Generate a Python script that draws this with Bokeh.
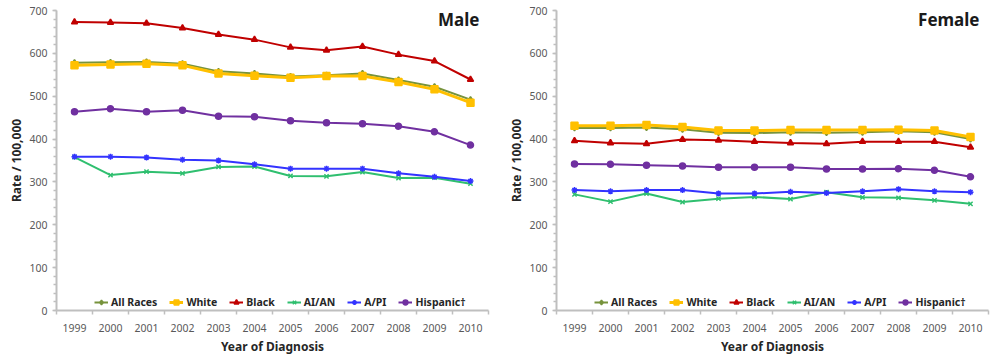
from bokeh.plotting import figure
from bokeh.models import Range1d, FixedTicker, Legend, LegendItem, Label, ColumnDataSource
from bokeh.layouts import row
from bokeh.embed import file_html
from bokeh.resources import INLINE

years = list(range(1999, 2011))
year_labels = [str(y) for y in years]
series_names = ["All Races", "White", "Black", "AI/AN", "A/PI", "Hispanic\u2020"]

male_all = [578, 579, 580, 576, 558, 553, 546, 549, 553, 538, 522, 492]
male_white = [572, 574, 576, 572, 553, 548, 543, 547, 547, 533, 516, 485]
male_black = [673, 672, 670, 659, 644, 632, 614, 607, 616, 597, 582, 539]
male_aian = [358, 316, 324, 320, 335, 336, 314, 313, 323, 309, 310, 296]
male_api = [359, 359, 357, 352, 350, 341, 331, 331, 331, 320, 312, 302]
male_hisp = [464, 471, 464, 467, 453, 452, 443, 438, 436, 430, 417, 386]

female_all = [426, 426, 427, 423, 415, 414, 416, 415, 416, 418, 416, 400]
female_white = [431, 431, 433, 428, 420, 420, 421, 421, 421, 422, 420, 405]
female_black = [396, 391, 389, 399, 397, 394, 391, 389, 394, 394, 394, 381]
female_aian = [271, 254, 273, 253, 261, 265, 260, 276, 264, 263, 257, 249]
female_api = [281, 278, 281, 281, 273, 273, 277, 274, 278, 283, 278, 276]
female_hisp = [342, 341, 339, 337, 334, 334, 334, 330, 330, 331, 327, 312]

y_ticks = [0, 100, 200, 300, 400, 500, 600, 700]

colors = ["#77933C", "#FFC000", "#C00000", "#2FBF6F", "#3333FF", "#7030A0"]
markers = ["diamond", "square", "triangle", "x", "asterisk", "circle"]
msizes = [6, 7, 6, 6, 6, 6]
lwidths = [2, 3, 2, 2, 2, 2]

FONT = "Noto Sans"


def make_panel(title, data, width, border_right):
    p = figure(width=width, height=357, output_backend="svg", toolbar_location=None,
               x_range=Range1d(1998.5, 2010.5), y_range=Range1d(0, 700),
               min_border_left=56, min_border_right=border_right,
               min_border_top=10, min_border_bottom=47)
    p.outline_line_color = None
    p.grid.visible = False

    items = []
    for name, vals, c, m, ms, lw in zip(series_names, data, colors, markers, msizes, lwidths):
        src = ColumnDataSource(dict(x=years, y=vals))
        r1 = p.line("x", "y", source=src, line_color=c, line_width=lw)
        r2 = p.scatter("x", "y", source=src, marker=m, size=ms, line_color=c,
                       fill_color=c, line_width=1.5)
        items.append(LegendItem(label=name, renderers=[r1, r2]))

    # axes
    xa = p.xaxis[0]
    xa.ticker = FixedTicker(ticks=years, minor_ticks=[1998.5 + i for i in range(13)])
    xa.major_label_overrides = {y: l for y, l in zip(years, year_labels)}
    xa.major_tick_out = 0
    xa.major_tick_in = 0
    xa.minor_tick_out = 4
    xa.minor_tick_in = 0
    xa.major_label_standoff = 9
    xa.axis_label = "Year of Diagnosis"
    xa.axis_label_standoff = 3

    ya = p.yaxis[0]
    ya.ticker = FixedTicker(ticks=y_ticks, minor_ticks=list(range(0, 701, 20)))
    ya.major_tick_out = 4
    ya.major_tick_in = 0
    ya.minor_tick_out = 3
    ya.minor_tick_in = 0
    ya.major_label_standoff = 5
    ya.axis_label = "Rate / 100,000"
    ya.axis_label_standoff = 1

    for ax in (xa, ya):
        ax.axis_line_color = "#BFBFBF"
        ax.axis_line_width = 2
        ax.major_tick_line_color = "#BFBFBF"
        ax.minor_tick_line_color = "#BFBFBF"
        ax.major_tick_line_width = 1.5
        ax.minor_tick_line_width = 1.5
        ax.major_label_text_font = FONT
        ax.major_label_text_font_size = "10.5px"
        ax.major_label_text_color = "#595959"
        ax.axis_label_text_font = FONT
        ax.axis_label_text_font_size = "12px"
        ax.axis_label_text_font_style = "bold"
        ax.axis_label_text_color = "#262626"

    legend = Legend(items=items, orientation="horizontal", location=(38, 1),
                    glyph_width=14, glyph_height=12, label_height=12,
                    label_standoff=3, spacing=12, padding=0, margin=0,
                    background_fill_alpha=0, border_line_alpha=0,
                    label_text_font=FONT, label_text_font_size="10.5px",
                    label_text_font_style="bold", label_text_color="#262626")
    p.add_layout(legend, "center")

    p.add_layout(Label(x=2010.25, y=678, text=title, text_align="right",
                       text_baseline="middle", text_font=FONT, text_font_size="17px",
                       text_font_style="bold", text_color="#1a1a1a"))
    return p


p1 = make_panel("Male", [male_all, male_white, male_black, male_aian, male_api, male_hisp], 500, 12)
p2 = make_panel("Female", [female_all, female_white, female_black, female_aian, female_api, female_hisp], 490, 2)

layout = row(p1, p2)
open("out.html", "w").write(file_html(layout, INLINE))
